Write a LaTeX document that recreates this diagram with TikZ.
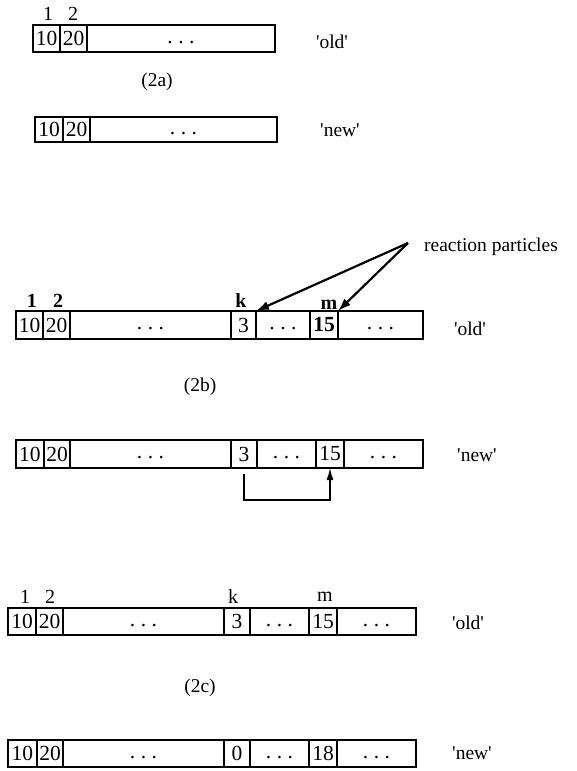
\documentclass[tikz,border=0pt]{standalone}
\usepackage{fontspec}
\setmainfont{Liberation Serif}
\usetikzlibrary{arrows.meta}

% one cell of an array row: name, left x, right x, content
\newcommand\arrcell[4]{%
  \pgfmathsetmacro\cellw{#3-#2}%
  \pgfmathsetmacro\cellx{(#2+#3)/2}%
  \node[cell, minimum width=\cellw pt] (#1) at (\cellx,\rowmid) {#4};}
\newcommand\rowat[2]{%
  \pgfmathsetmacro\rowmid{(#1+#2)/2}%
  \pgfmathsetmacro\rowh{#2-#1}%
  \tikzset{cell/.style={draw=black, line width=1.3pt, inner sep=0pt, outer sep=0pt,
    minimum height=\rowh pt, font=\fontsize{21.5}{24}\selectfont}}}
% three spaced dots sitting near the digit baseline
\newcommand\dotsfill{\vphantom{0}\raisebox{2.5pt}{.\kern5.5pt.\kern5.5pt.}}
\newcommand\q[1]{\textquotesingle#1\textquotesingle}

\begin{document}
\begin{tikzpicture}[x=1pt, y=-1pt,
  txt/.style={inner sep=0pt, font=\fontsize{19.5}{22}\selectfont},
  idx/.style={inner sep=0pt, anchor=base, font=\fontsize{20}{22}\selectfont},
  bidx/.style={idx, font=\fontsize{20}{22}\selectfont\bfseries},
  pointer/.style={line width=2.2pt, -{Latex[length=13pt, width=9pt]}},
  link/.style={line width=1.3pt, -{Latex[length=12pt, width=7pt]}}]
\useasboundingbox (0,0) rectangle (577,771);

% ---------- (2a) ----------
\rowat{25}{52}
\arrcell{ao1}{33}{60}{10}
\arrcell{ao2}{60}{87}{20}
\arrcell{ao3}{87}{275}{\dotsfill}
\node[idx] (ai1) at (48,20) {1};
\node[idx] (ai2) at (73,20) {2};
\node[txt] (aold) at (332,42) {\q{old}};
\node[txt] (acap) at (157,82) {(2a)};

\rowat{117}{142}
\arrcell{an1}{35}{63}{10}
\arrcell{an2}{63}{90}{20}
\arrcell{an3}{90}{277}{\dotsfill}
\node[txt] (anew) at (340,130) {\q{new}};

% ---------- (2b) ----------
\rowat{311}{339}
\arrcell{bo1}{16}{43}{10}
\arrcell{bo2}{43}{70}{20}
\arrcell{bo3}{70}{231}{\dotsfill}
\arrcell{bok}{231}{256}{3}
\arrcell{bo5}{256}{310}{\dotsfill}
\arrcell{bom}{310}{338}{\bfseries 15}
\arrcell{bo7}{338}{423}{\dotsfill}
\node[bidx] (bi1) at (32,307) {1};
\node[bidx] (bi2) at (58,307) {2};
\node[bidx] (bik) at (241,307) {k};
\node[bidx] (bim) at (329,309) {m};
\node[txt] (bold) at (470,329) {\q{old}};
\node[txt] (rp) at (491,247) {reaction particles};
\coordinate (rpsrc) at (408,243);
\draw[pointer] (rpsrc) -- (bok.north east);
\draw[pointer] (rpsrc) -- (bom.north east);
\node[txt] (bcap) at (200,387) {(2b)};

\rowat{440}{468}
\arrcell{bn1}{16}{44}{10}
\arrcell{bn2}{44}{70}{20}
\arrcell{bn3}{70}{231}{\dotsfill}
\arrcell{bnk}{231}{257}{3}
\arrcell{bn5}{257}{316}{\dotsfill}
\arrcell{bnm}{316}{344}{15}
\arrcell{bn7}{344}{423}{\dotsfill}
\node[txt] (bnew) at (477,455) {\q{new}};
\draw[link] ([yshift=-6pt]bnk.south) -- ++(0,26) -| (bnm.south);

% ---------- (2c) ----------
\rowat{608}{635}
\arrcell{co1}{8}{36}{10}
\arrcell{co2}{36}{63}{20}
\arrcell{co3}{63}{224}{\dotsfill}
\arrcell{cok}{224}{250}{3}
\arrcell{co5}{250}{309}{\dotsfill}
\arrcell{com}{309}{337}{15}
\arrcell{co7}{337}{416}{\dotsfill}
\node[idx] (ci1) at (25,603) {1};
\node[idx] (ci2) at (50,603) {2};
\node[idx] (cik) at (233,603) {k};
\node[idx] (cim) at (325,601) {m};
\node[txt] (cold) at (468,623) {\q{old}};
\node[txt] (ccap) at (200,688) {(2c)};

\rowat{740}{767}
\arrcell{cn1}{8}{37}{10}
\arrcell{cn2}{37}{63}{20}
\arrcell{cn3}{63}{224}{\dotsfill}
\arrcell{cnk}{224}{250}{0}
\arrcell{cn5}{250}{309}{\dotsfill}
\arrcell{cnm}{309}{337}{18}
\arrcell{cn7}{337}{416}{\dotsfill}
\node[txt] (cnew) at (472,753) {\q{new}};
\end{tikzpicture}
\end{document}
